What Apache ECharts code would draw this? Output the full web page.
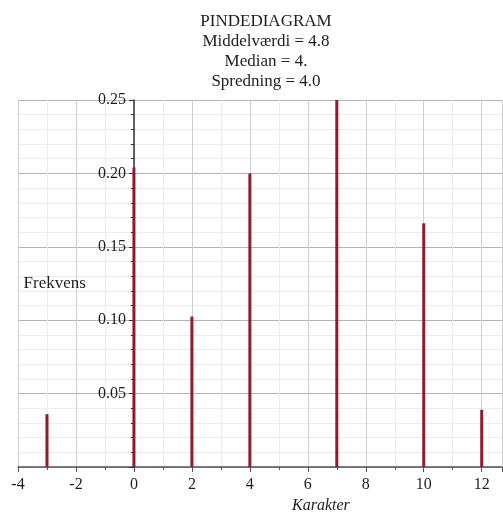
<!DOCTYPE html>
<html>
<head>
<meta charset="utf-8">
<script src="https://cdn.jsdelivr.net/npm/echarts@6/dist/echarts.min.js"></script>
<style>
  html, body { margin: 0; padding: 0; background: #fff; }
  #chart { width: 503px; height: 512px; }
</style>
</head>
<body>
<div id="chart"></div>
<script>
// Grades and their relative frequencies
const grades = [-3, 0, 2, 4, 7, 10, 12];
const frequencies = [0.036, 0.204, 0.1025, 0.2, 0.25, 0.166, 0.039];

// Title lines with summary statistics
const titleLines = ['PINDEDIAGRAM', 'Middelværdi = 4.8', 'Median = 4.', 'Spredning = 4.0'];
const xName = 'Karakter';
const yName = 'Frekvens';

const serif = '"Liberation Serif", "DejaVu Serif", serif';
const textColor = '#1c1c28';

const gridLeft = 18;
const gridRight = 1;
const chartWidth = 503;
const xMin = -4;
const xMax = 12.7;
// distance from the plot's left edge to x = 0, so the y axis sits on zero
const zeroOffset = (0 - xMin) / (xMax - xMin) * (chartWidth - gridLeft - gridRight);

const chart = echarts.init(document.getElementById('chart'), null, { renderer: 'canvas' });

chart.setOption({
  animation: false,
  backgroundColor: '#ffffff',
  title: {
    text: titleLines.join('\n'),
    left: 261,
    top: 7,
    textAlign: 'center',
    textStyle: {
      fontFamily: serif,
      fontSize: 17,
      fontWeight: 'normal',
      color: textColor,
      lineHeight: 20
    }
  },
  grid: { left: gridLeft, right: gridRight, top: 100, bottom: 45, containLabel: false, outerBoundsMode: 'none' },
  xAxis: {
    type: 'value',
    min: xMin,
    max: xMax,
    interval: 2,
    axisLine: { show: true, onZero: true, lineStyle: { color: '#555', width: 1.5 } },
    axisTick: { show: true, length: 5, lineStyle: { color: '#555' } },
    minorTick: { show: true, splitNumber: 2, length: 3, lineStyle: { color: '#555' } },
    splitLine: { show: true, lineStyle: { color: '#cfcfcf', width: 1 } },
    minorSplitLine: { show: true, lineStyle: { color: '#ececec', width: 1 } },
    axisLabel: {
      fontFamily: serif,
      fontSize: 16,
      color: textColor,
      margin: 10,
      showMaxLabel: false
    }
  },
  yAxis: {
    type: 'value',
    position: 'left',
    offset: -zeroOffset,
    min: 0,
    max: 0.25,
    interval: 0.05,
    name: yName,
    nameLocation: 'middle',
    nameRotate: 0,
    nameGap: 48,
    nameTextStyle: { fontFamily: serif, fontSize: 17, color: textColor },
    axisLine: { show: true, onZero: false, lineStyle: { color: '#333', width: 1.5 } },
    axisTick: { show: true, length: 5, lineStyle: { color: '#333' } },
    minorTick: { show: true, splitNumber: 5, length: 3, lineStyle: { color: '#333' } },
    splitLine: { show: true, lineStyle: { color: '#b4b4b4', width: 1 } },
    minorSplitLine: { show: true, lineStyle: { color: '#ececec', width: 1 } },
    axisLabel: {
      fontFamily: serif,
      fontSize: 16,
      color: textColor,
      margin: 8,
      showMinLabel: false,
      formatter: v => v.toFixed(2)
    }
  },
  graphic: [{
    type: 'text',
    left: 292,
    top: 498,
    style: {
      text: xName,
      font: 'italic 16px ' + serif,
      fill: textColor
    }
  }],
  series: [{
    type: 'bar',
    data: grades.map((g, i) => [g, frequencies[i]]),
    barWidth: 3,
    itemStyle: { color: '#921a2e' },
    z: 3
  }]
});
</script>
</body>
</html>
